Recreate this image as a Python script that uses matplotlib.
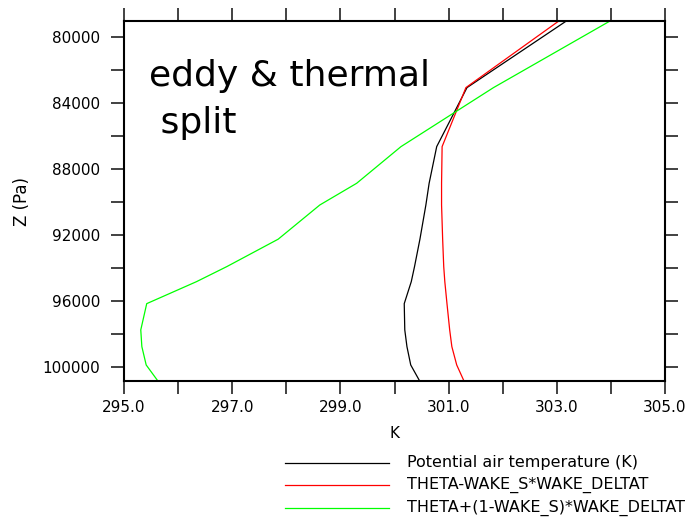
import matplotlib
matplotlib.use("Agg")
import matplotlib.pyplot as plt
from matplotlib.lines import Line2D

# Model pressure levels (Pa), top to bottom
pressure = [79020, 83080, 86650, 88870, 90180, 92250, 93910, 94820,
            96150, 97740, 98750, 99860, 100800]

# Potential air temperature (K)
theta = [303.19, 301.34, 300.78, 300.64, 300.58, 300.47, 300.37, 300.31,
         300.18, 300.19, 300.23, 300.30, 300.46]

# THETA - WAKE_S * WAKE_DELTAT
theta_out = [303.05, 301.32, 300.88, 300.87, 300.87, 300.89, 300.91, 300.93,
             300.97, 301.02, 301.06, 301.15, 301.28]

# THETA + (1 - WAKE_S) * WAKE_DELTAT
theta_wake = [304.00, 301.83, 300.12, 299.30, 298.62, 297.85, 296.90, 296.34,
              295.42, 295.31, 295.33, 295.41, 295.62]

series_labels = ["Potential air temperature (K)",
                 "THETA-WAKE_S*WAKE_DELTAT",
                 "THETA+(1-WAKE_S)*WAKE_DELTAT"]
series_colors = ["black", "#ff0000", "#00ff00"]

x_ticks = [295, 296, 297, 298, 299, 300, 301, 302, 303, 304, 305]
x_ticklabels = ["295.0", "", "297.0", "", "299.0", "", "301.0", "",
                "303.0", "", "305.0"]
y_ticks = [80000, 82000, 84000, 86000, 88000, 90000, 92000, 94000,
           96000, 98000, 100000]
y_ticklabels = ["80000", "", "84000", "", "88000", "", "92000", "",
                "96000", "", "100000"]

W, H = 693, 521
fig = plt.figure(figsize=(W / 100, H / 100), dpi=100)
ax = fig.add_axes([124 / W, 1 - 380.5 / H, 541 / W, 360 / H])

for vals, col in zip([theta, theta_out, theta_wake], series_colors):
    ax.plot(vals, pressure, color=col, lw=0.9)

ax.set_xlim(295, 305)
ax.set_ylim(max(pressure), min(pressure))

ax.set_xticks(x_ticks)
ax.set_xticklabels(x_ticklabels)
ax.set_yticks(y_ticks)
ax.set_yticklabels(y_ticklabels)

for side in ["left", "right", "top", "bottom"]:
    ax.spines[side].set_linewidth(1.5)
    ax.spines[side].set_color("black")

ax.tick_params(axis="both", direction="out", length=9.5, width=1.3,
               color="#333333", top=True, right=True, labelsize=11)
ax.tick_params(axis="x", pad=4.5)
ax.tick_params(axis="y", pad=7.5)

fig.text(394.5 / W, 1 - 433 / H, "K", ha="center", va="center", fontsize=11)
fig.text(21.7 / W, 1 - 201 / H, "Z (Pa)", ha="center", va="center",
         rotation=90, fontsize=12)

fig.text(149 / W, 1 - 133 / H, "eddy & thermal\n split", ha="left",
         va="baseline", fontsize=26, linespacing=1.48)

# Legend below the axes
for i, (lbl, col) in enumerate(zip(series_labels, series_colors)):
    y = 1 - (462.5 + 22.5 * i) / H
    fig.add_artist(Line2D([285 / W, 389 / W], [y, y], color=col, lw=0.9,
                          transform=fig.transFigure))
    fig.text(407 / W, y, lbl, ha="left", va="center", fontsize=11.5)

fig.savefig("out.png", dpi=100)
